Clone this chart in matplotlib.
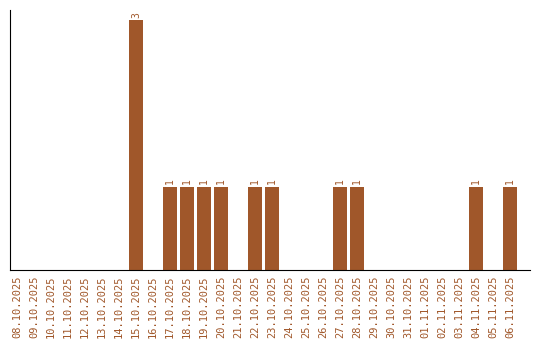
import matplotlib
matplotlib.use("Agg")
import matplotlib.pyplot as plt

dates = ["08.10.2025", "09.10.2025", "10.10.2025", "11.10.2025", "12.10.2025",
         "13.10.2025", "14.10.2025", "15.10.2025", "16.10.2025", "17.10.2025",
         "18.10.2025", "19.10.2025", "20.10.2025", "21.10.2025", "22.10.2025",
         "23.10.2025", "24.10.2025", "25.10.2025", "26.10.2025", "27.10.2025",
         "28.10.2025", "29.10.2025", "30.10.2025", "31.10.2025", "01.11.2025",
         "02.11.2025", "03.11.2025", "04.11.2025", "05.11.2025", "06.11.2025"]
counts = [0, 0, 0, 0, 0, 0, 0, 3, 0, 1,
          1, 1, 1, 0, 1, 1, 0, 0, 0, 1,
          1, 0, 0, 0, 0, 0, 0, 1, 0, 1]

cor = "#A0572A"
plt.rcParams["font.family"] = "DejaVu Sans Mono"

fig = plt.figure(figsize=(5.4, 3.4), dpi=100)
ax = fig.add_axes([10 / 540, 70 / 340, 520 / 540, 260 / 340])

x = list(range(len(dates)))
ax.bar(x, counts, width=0.82, color=cor)

for i, v in enumerate(counts):
    if v > 0:
        ax.text(i, v + 0.03, str(v), rotation=90, ha="center", va="bottom",
                fontsize=7, color=cor)

ax.set_xlim(-0.41, 30.18)
ax.set_ylim(0, 3.12)
ax.set_xticks(x)
ax.set_xticklabels(dates, rotation=90, fontsize=7.5, color=cor)
ax.tick_params(axis="x", length=0, pad=4)
ax.set_yticks([])
ax.spines["top"].set_visible(False)
ax.spines["right"].set_visible(False)

fig.savefig("out.png", dpi=100)
